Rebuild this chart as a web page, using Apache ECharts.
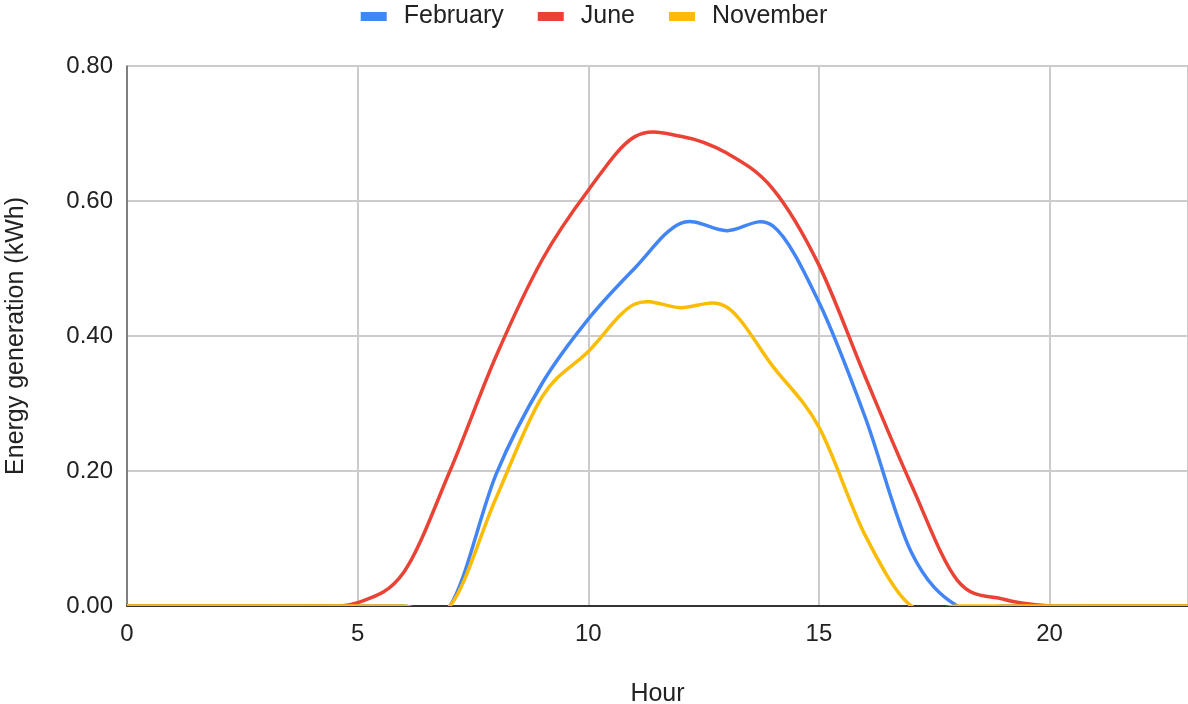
<!DOCTYPE html>
<html>
<head>
<meta charset="utf-8">
<script src="https://cdn.jsdelivr.net/npm/echarts@6/dist/echarts.min.js"></script>
<style>
  html, body { margin: 0; padding: 0; background: #fff; }
  #chart { width: 1188px; height: 704px; }
</style>
</head>
<body>
<div id="chart"></div>
<script>
// Hourly solar energy generation (kWh) for three months
const hours = [0, 1, 2, 3, 4, 5, 6, 7, 8, 9, 10, 11, 12, 13, 14, 15, 16, 17, 18, 19, 20, 21, 22, 23];
const february = [0, 0, 0, 0, 0, 0, 0, 0, 0.195, 0.33, 0.425, 0.50, 0.567, 0.556, 0.563, 0.45, 0.28, 0.08, 0, 0, 0, 0, 0, 0];
const june = [0, 0, 0, 0, 0, 0.005, 0.05, 0.20, 0.37, 0.513, 0.616, 0.695, 0.696, 0.671, 0.618, 0.505, 0.34, 0.18, 0.038, 0.01, 0, 0, 0, 0];
const november = [0, 0, 0, 0, 0, 0, 0, 0, 0.16, 0.31, 0.377, 0.447, 0.442, 0.443, 0.355, 0.265, 0.105, 0, 0, 0, 0, 0, 0, 0];
const yTicks = [0, 0.2, 0.4, 0.6, 0.8];

const FONT = '"Liberation Sans", Arial, sans-serif';
const pairs = vals => hours.map((h, i) => [h, vals[i]]);

// Draws a Catmull-Rom spline through every point of a series, placed with the
// grid's own coordinate system and clipped to the plotting area.
function splineRenderer(values, color) {
  return function (params, api) {
    if (params.dataIndex !== 0) return null;
    const pts = hours.map((h, i) => api.coord([h, values[i]]));
    let d = 'M' + pts[0][0] + ',' + pts[0][1];
    for (let i = 0; i < pts.length - 1; i++) {
      const p0 = pts[i - 1] || pts[i];
      const p1 = pts[i];
      const p2 = pts[i + 1];
      const p3 = pts[i + 2] || p2;
      const c1x = p1[0] + (p2[0] - p0[0]) / 6, c1y = p1[1] + (p2[1] - p0[1]) / 6;
      const c2x = p2[0] - (p3[0] - p1[0]) / 6, c2y = p2[1] - (p3[1] - p1[1]) / 6;
      d += ' C' + c1x + ',' + c1y + ' ' + c2x + ',' + c2y + ' ' + p2[0] + ',' + p2[1];
    }
    const cs = params.coordSys;
    return {
      type: 'path',
      shape: { pathData: d },
      style: { fill: null, stroke: color, lineWidth: 3.5, lineJoin: 'round', lineCap: 'round' },
      clipPath: { type: 'rect', shape: { x: cs.x, y: cs.y - 2, width: cs.width, height: cs.height + 2 } }
    };
  };
}

function monthSeries(name, values, color, z) {
  return {
    name: name,
    type: 'custom',
    data: pairs(values),
    encode: { x: 0, y: 1 },
    color: color,
    itemStyle: { color: color },
    renderItem: splineRenderer(values, color),
    z: z
  };
}

const chart = echarts.init(document.getElementById('chart'));
chart.setOption({
  animation: false,
  textStyle: { fontFamily: FONT, color: '#222' },
  legend: {
    top: -1,
    left: 'center',
    itemWidth: 26,
    itemHeight: 9,
    itemGap: 34,
    icon: 'rect',
    textStyle: { fontFamily: FONT, fontSize: 25, color: '#222', padding: [0, 0, 0, 12] },
    data: ['February', 'June', 'November']
  },
  grid: { left: 127, right: 0, top: 66, bottom: 98, containLabel: false, outerBoundsMode: 'none' },
  xAxis: {
    type: 'value',
    min: 0,
    max: 23,
    interval: 5,
    name: 'Hour',
    nameLocation: 'middle',
    nameGap: 76,
    nameTextStyle: { fontFamily: FONT, fontSize: 25, color: '#222' },
    axisLine: { show: true, onZero: false, lineStyle: { color: '#333', width: 2 } },
    axisTick: { show: false },
    axisLabel: { fontFamily: FONT, fontSize: 24, color: '#222', margin: 16, showMaxLabel: false },
    splitLine: { show: true, lineStyle: { color: '#cccccc', width: 2 } }
  },
  yAxis: {
    type: 'value',
    min: yTicks[0],
    max: yTicks[yTicks.length - 1],
    interval: 0.2,
    name: 'Energy generation (kWh)',
    nameLocation: 'middle',
    nameGap: 98,
    nameRotate: 90,
    nameTextStyle: { fontFamily: FONT, fontSize: 25, color: '#222' },
    axisLine: { show: true, lineStyle: { color: '#666', width: 1.5 } },
    axisTick: { show: false },
    axisLabel: { fontFamily: FONT, fontSize: 24, color: '#222', margin: 14, formatter: v => v.toFixed(2) },
    splitLine: { show: true, lineStyle: { color: '#cccccc', width: 2 } }
  },
  series: [
    monthSeries('February', february, '#4285F4', 2),
    monthSeries('June', june, '#EA4335', 3),
    monthSeries('November', november, '#FBBC04', 4)
  ]
});
</script>
</body>
</html>
